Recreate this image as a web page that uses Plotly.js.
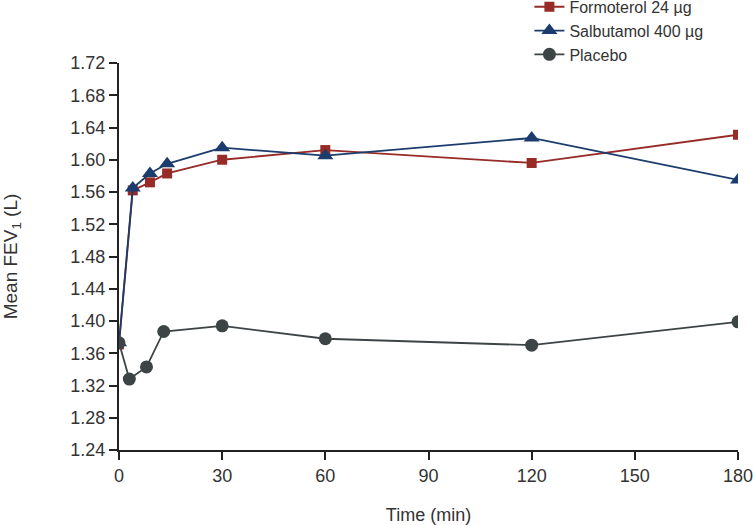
<!DOCTYPE html>
<html>
<head>
<meta charset="utf-8">
<script src="https://cdn.plot.ly/plotly-3.0.1.min.js"></script>
<style>html,body{margin:0;padding:0;background:#fff;}#chart{width:753px;height:525px;}</style>
</head>
<body>
<div id="chart"></div>
<script>
const formoterolTime = [0, 4, 9, 14, 30, 60, 120, 180];
const formoterolFEV1 = [1.371, 1.562, 1.572, 1.583, 1.600, 1.612, 1.596, 1.631];
const salbutamolTime = [0, 4, 9, 14, 30, 60, 120, 180];
const salbutamolFEV1 = [1.373, 1.565, 1.583, 1.595, 1.615, 1.605, 1.627, 1.575];
const placeboTime = [0, 3, 8, 13, 30, 60, 120, 180];
const placeboFEV1 = [1.373, 1.328, 1.343, 1.387, 1.394, 1.378, 1.370, 1.399];
const xTicks = [0, 30, 60, 90, 120, 150, 180];
const yTicks = [1.24, 1.28, 1.32, 1.36, 1.40, 1.44, 1.48, 1.52, 1.56, 1.60, 1.64, 1.68, 1.72];

const traces = [
  {x: formoterolTime, y: formoterolFEV1, name: 'Formoterol 24 µg', mode: 'lines+markers', type: 'scatter',
   line: {color: '#972b27', width: 1.8}, marker: {symbol: 'square', size: 10, color: '#972b27'}},
  {x: salbutamolTime, y: salbutamolFEV1, name: 'Salbutamol 400 µg', mode: 'lines+markers', type: 'scatter',
   line: {color: '#1b3c6c', width: 1.8}, marker: {symbol: 'triangle-up', size: 14, color: '#1b3c6c'}},
  {x: placeboTime, y: placeboFEV1, name: 'Placebo', mode: 'lines+markers', type: 'scatter',
   line: {color: '#3d4446', width: 1.8}, marker: {symbol: 'circle', size: 13, color: '#3d4446'}}
];

const layout = {
  width: 753, height: 525,
  margin: {l: 119, r: 15, t: 63, b: 75, autoexpand: false},
  paper_bgcolor: '#fff', plot_bgcolor: '#fff',
  font: {family: 'Liberation Sans, Arial, sans-serif', size: 18, color: '#333'},
  showlegend: true,
  legend: {x: 0.663, xanchor: 'left', y: 1.189, yanchor: 'top', bgcolor: 'rgba(0,0,0,0)',
           font: {size: 16, color: '#333'}, traceorder: 'normal'},
  xaxis: {range: [0, 180], tickvals: xTicks, ticktext: xTicks.map(String), showgrid: false, zeroline: false,
          showline: true, linecolor: '#222', linewidth: 2, ticks: 'outside', ticklen: 8, tickwidth: 2, tickcolor: '#222',
          tickfont: {size: 18}, ticklabeloverflow: 'allow',
          title: {text: 'Time (min)', font: {size: 18}, standoff: 26}, automargin: false},
  yaxis: {range: [1.24, 1.72], tickvals: yTicks, ticktext: yTicks.map(v => v.toFixed(2)), showgrid: false, zeroline: false,
          showline: true, linecolor: '#222', linewidth: 2, ticks: 'outside', ticklen: 8, tickwidth: 2, tickcolor: '#222',
          tickfont: {size: 18}, ticklabeloverflow: 'allow',
          title: {text: 'Mean FEV<sub>1</sub> (L)', font: {size: 19}, standoff: 49}, automargin: false}
};
Plotly.newPlot('chart', traces, layout, {displayModeBar: false, staticPlot: true});
</script>
</body>
</html>
